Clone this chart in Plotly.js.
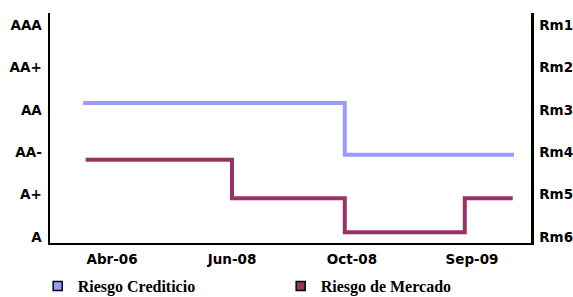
<!DOCTYPE html>
<html>
<head>
<meta charset="utf-8">
<script src="https://cdn.plot.ly/plotly-3.0.1.min.js"></script>
<style>
html,body{margin:0;padding:0;overflow:hidden;background:#fff;}
#chart{width:573px;height:330px;}
</style>
</head>
<body>
<div id="chart"></div>
<script>
// Categories / tick labels
var xTickLabels = ['Abr-06', 'Jun-08', 'Oct-08', 'Sep-09'];
var leftTickLabels = ['A', 'A+', 'AA-', 'AA', 'AA+', 'AAA'];
var rightTickLabels = ['Rm6', 'Rm5', 'Rm4', 'Rm3', 'Rm2', 'Rm1'];

// Series: step breakpoints (x in category units, y in rating units)
var crediticioX = [-0.24, 1.94, 3.35];
var crediticioY = [3.16, 1.94, 1.94];
var mercadoX = [-0.22, 1.0, 1.94, 2.94, 3.34];
var mercadoY = [1.82, 0.915, 0.11, 0.915, 0.915];

var seriesNames = ['Riesgo Crediticio', 'Riesgo de Mercado'];
var colors = ['#9999FF', '#993366'];

var idx = [0, 1, 2, 3, 4, 5];
var tickFont = {family: 'DejaVu Sans, Arial, sans-serif', size: 13.5, color: '#000', weight: 'bold'};

var traces = [
  {x: crediticioX, y: crediticioY, type: 'scatter', mode: 'lines',
   line: {shape: 'hv', color: colors[0], width: 4}, showlegend: false, xaxis: 'x', yaxis: 'y'},
  {x: mercadoX, y: mercadoY, type: 'scatter', mode: 'lines',
   line: {shape: 'hv', color: colors[1], width: 4}, showlegend: false, xaxis: 'x', yaxis: 'y2'},
  {x: [null], y: [null], type: 'scatter', mode: 'markers', name: seriesNames[0],
   marker: {symbol: 'square', size: 9, color: colors[0], line: {color: '#000', width: 1.5}}},
  {x: [null], y: [null], type: 'scatter', mode: 'markers', name: seriesNames[1],
   marker: {symbol: 'square', size: 9, color: colors[1], line: {color: '#000', width: 1.5}}}
];

var layout = {
  width: 573, height: 330,
  margin: {l: 50, r: 42, t: 13, b: 87},
  paper_bgcolor: '#fff', plot_bgcolor: '#fff',
  showlegend: true,
  legend: {
    orientation: 'h', x: -0.0256, xanchor: 'left', y: -0.187, yanchor: 'middle',
    entrywidth: 198, entrywidthmode: 'pixels',
    font: {family: 'Liberation Serif, Times New Roman, serif', size: 16, color: '#000', weight: 'bold'},
    bgcolor: 'rgba(0,0,0,0)', borderwidth: 0
  },
  xaxis: {
    range: [-0.517, 3.492], tickmode: 'array', tickvals: [0, 1, 2, 3], ticktext: xTickLabels,
    showgrid: false, zeroline: false, showline: true, linecolor: '#000', linewidth: 2,
    ticks: '', ticklabelstandoff: 3, tickfont: tickFont, fixedrange: true
  },
  yaxis: {
    range: [-0.142, 5.283], tickmode: 'array', tickvals: idx, ticktext: leftTickLabels,
    showgrid: false, zeroline: false, showline: true, linecolor: '#000', linewidth: 2.5,
    ticks: '', ticklabelstandoff: 3, tickfont: tickFont, fixedrange: true
  },
  yaxis2: {
    range: [-0.142, 5.283], tickmode: 'array', tickvals: idx, ticktext: rightTickLabels,
    overlaying: 'y', side: 'right',
    showgrid: false, zeroline: false, showline: true, linecolor: '#000', linewidth: 2.5,
    ticks: '', ticklabelstandoff: 3, tickfont: tickFont, fixedrange: true
  }
};

Plotly.newPlot('chart', traces, layout, {displayModeBar: false, staticPlot: true});
</script>
</body>
</html>
